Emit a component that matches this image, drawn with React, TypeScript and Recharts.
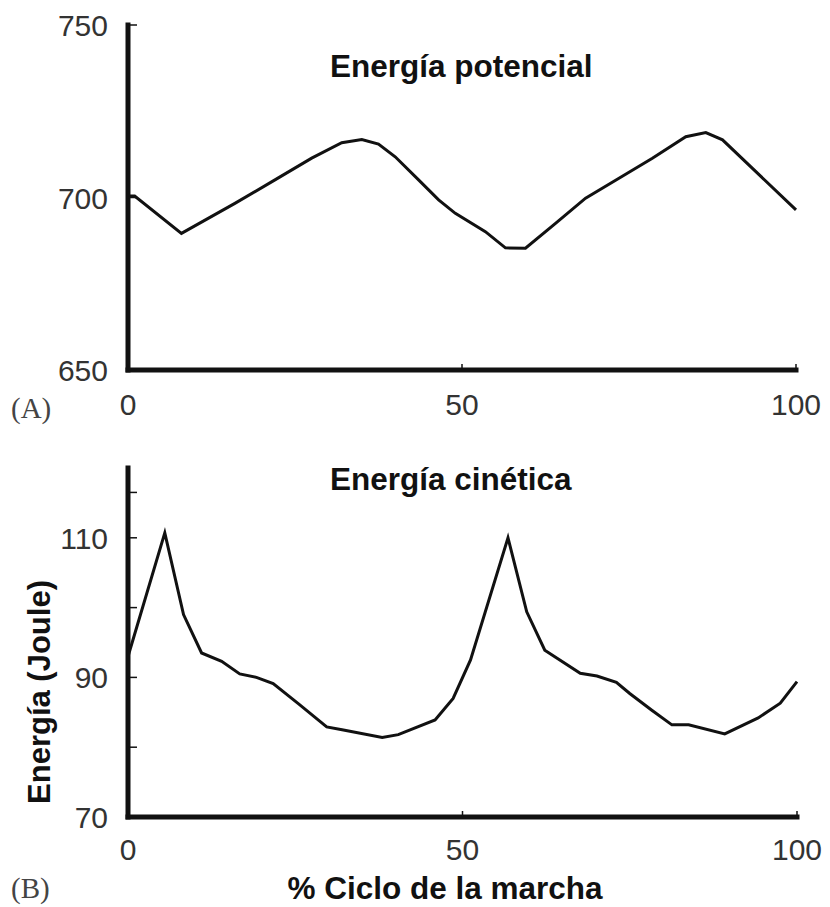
import React from "react";
import { LineChart, Line, XAxis, YAxis } from "recharts";

// Energía potencial (A)
const potX = [0, 1, 8, 16, 22, 27.5, 32, 35, 37.5, 40, 43.5, 46.5, 49, 53.5, 56.5, 59.5, 64, 68.5, 73.5, 78.5, 83.5, 86.5, 89, 100];
const potY = [700.4, 700.4, 689.6, 698.3, 705.1, 711.4, 715.9, 716.8, 715.5, 711.8, 705.1, 699.3, 695.4, 690.1, 685.4, 685.3, 692.5, 699.8, 705.6, 711.4, 717.6, 718.8, 716.7, 696.4];

// Energía cinética (B)
const kinX = [0, 5.5, 8.3, 11, 14, 16.7, 19.2, 21.7, 25.5, 29.7, 32, 38, 40.4, 45.9, 48.6, 51.2, 56.8, 59.6, 62.3, 67.6, 70.1, 73, 75, 78.3, 81.3, 83.8, 89.2, 94.2, 97.5, 100];
const kinY = [93, 110.7, 99, 93.5, 92.3, 90.5, 90, 89.1, 86.2, 82.9, 82.5, 81.4, 81.8, 83.9, 87, 92.5, 110, 99.4, 93.9, 90.6, 90.2, 89.3, 87.7, 85.3, 83.2, 83.2, 81.9, 84.2, 86.3, 89.4];

const xTicks = [0, 50, 100];
const potTicks = [650, 700, 750];
const potLabels = [650, 700, 750];
const kinTicks = [70, 80, 90, 100, 110, 116.5];
const kinLabels = [70, 90, 110];

const SANS = '"Liberation Sans", Arial, Helvetica, sans-serif';
const SERIF = '"Liberation Serif", "Times New Roman", serif';
const INK = "#111";
const GREY = "#333";

const potData = potX.map((x, i) => ({ x, y: potY[i] }));
const kinData = kinX.map((x, i) => ({ x, y: kinY[i] }));

function YTick(props: any) {
  const { x, y, payload, labels } = props;
  const v = payload.value;
  return (
    <g>
      <line x1={x} y1={y} x2={x + 9} y2={y} stroke={INK} strokeWidth={1.5} />
      {labels.includes(v) && (
        <text x={x - 20} y={y + 11} textAnchor="end" fontSize={30} fill={GREY} fontFamily={SANS}>
          {v}
        </text>
      )}
    </g>
  );
}

function XTick(props: any) {
  const { x, y, payload, dy } = props;
  return (
    <g>
      <line x1={x} y1={y} x2={x} y2={y - 6} stroke={INK} strokeWidth={1.5} />
      <text x={x} y={y + dy} textAnchor="middle" fontSize={30} fill={GREY} fontFamily={SANS}>
        {payload.value}
      </text>
    </g>
  );
}

const axisLine = { stroke: INK, strokeWidth: 5, strokeLinecap: "square" as const };

function Panel({ data, domain, ticks, labels, height, margin, dy }: any) {
  return (
    <LineChart width={830} height={height} data={data} margin={margin}>
      <XAxis
        dataKey="x"
        type="number"
        domain={[0, 100]}
        ticks={xTicks}
        interval={0}
        height={50}
        tickSize={0}
        tickMargin={0}
        tickLine={false}
        axisLine={axisLine}
        tick={(p: any) => <XTick {...p} dy={dy} />}
      />
      <YAxis
        type="number"
        domain={domain}
        ticks={ticks}
        interval={0}
        width={100}
        tickSize={0}
        tickMargin={0}
        tickLine={false}
        axisLine={axisLine}
        allowDataOverflow
        tick={(p: any) => <YTick {...p} labels={labels} />}
      />
      <Line
        type="linear"
        dataKey="y"
        stroke={INK}
        strokeWidth={3}
        dot={false}
        activeDot={false}
        isAnimationActive={false}
      />
    </LineChart>
  );
}

export default function App() {
  return (
    <div style={{ position: "absolute", left: 0, top: 0, width: 830, height: 907, background: "#fff" }}>
      <div style={{ position: "absolute", left: 0, top: 0 }}>
        <Panel
          data={potData}
          domain={[650, 750]}
          ticks={potTicks}
          labels={potLabels}
          height={440}
          margin={{ top: 25, right: 34, left: 28, bottom: 20 }}
          dy={45}
        />
      </div>
      <div style={{ position: "absolute", left: 0, top: 440 }}>
        <Panel
          data={kinData}
          domain={[70, 120]}
          ticks={kinTicks}
          labels={kinLabels}
          height={467}
          margin={{ top: 28, right: 33, left: 28, bottom: 40 }}
          dy={43}
        />
      </div>
      <svg
        width={830}
        height={907}
        style={{ position: "absolute", left: 0, top: 0, pointerEvents: "none" }}
      >
        <text x={330} y={77} fontSize={31.5} fontWeight="bold" fill={INK} fontFamily={SANS}>
          Energía potencial
        </text>
        <text x={330} y={490} fontSize={31.5} fontWeight="bold" fill={INK} fontFamily={SANS}>
          Energía cinética
        </text>
        <text
          transform="translate(50, 692) rotate(-90)"
          textAnchor="middle"
          fontSize={31}
          fontWeight="bold"
          fill={INK}
          fontFamily={SANS}
        >
          Energía (Joule)
        </text>
        <text x={445} y={899} textAnchor="middle" fontSize={31.5} fontWeight="bold" fill={INK} fontFamily={SANS}>
          % Ciclo de la marcha
        </text>
        <text x={11} y={418} fontSize={29} fill="#444" fontFamily={SERIF}>
          (A)
        </text>
        <text x={11} y={898} fontSize={29} fill="#444" fontFamily={SERIF}>
          (B)
        </text>
      </svg>
    </div>
  );
}
